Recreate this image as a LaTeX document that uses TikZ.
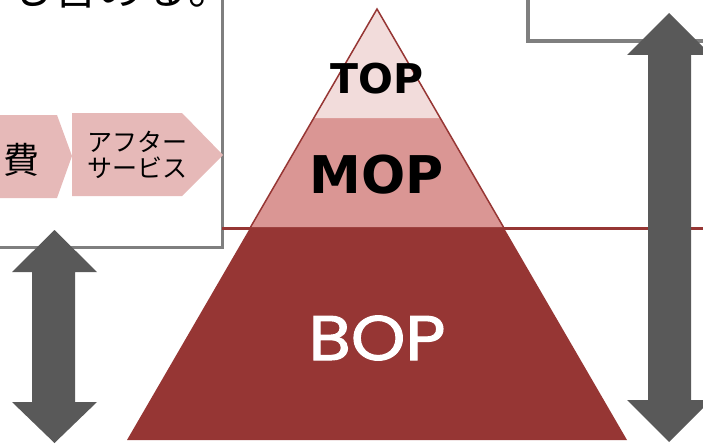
\documentclass[tikz,border=0pt]{standalone}
\usepackage{fontspec}
\newfontfamily\jpfont{Noto Sans CJK JP}
\newfontfamily\dvfont{DejaVu Sans}
\newfontfamily\popfont[FakeStretch=1.1, FakeBold=1.6]{Poppins}
\definecolor{boxgray}{HTML}{7F7F7F}
\definecolor{arrgray}{HTML}{595959}
\definecolor{bopred}{HTML}{963634}
\definecolor{mopred}{HTML}{DA9694}
\definecolor{toppink}{HTML}{F2DCDB}
\definecolor{chevpink}{HTML}{E6B9B8}
\tikzset{
  framebox/.style={draw=boxgray, line width=3.5pt},
  chev/.style={fill=chevpink, draw=none},
  bigarrow/.style={fill=arrgray, draw=none},
}
\begin{document}
\begin{tikzpicture}[x=1pt,y=-1pt]
\useasboundingbox (0,0) rectangle (703,444);
\clip (0,0) rectangle (703,444);
% frames
\draw[framebox] (-20,-20) rectangle (222.5,247.5);
\draw[framebox] (528,-20) rectangle (740,41);
% top text (cut off)
\node[anchor=base west, inner sep=0pt, font=\jpfont\fontsize{45}{45}\selectfont] (toptext) at (-37,5) {をも含める。};
% chevrons
\fill[chev] (-20,115) -- (57,115) -- (72,156) -- (57,198) -- (-20,198) -- cycle;
\fill[chev] (72,113) -- (182,113) -- (223,155) -- (182,196) -- (72,196) -- cycle;
\node[inner sep=0pt, font=\jpfont\fontsize{36}{36}\selectfont] (hi) at (21,160) {費};
\node[inner sep=0pt, align=center, font=\jpfont\fontsize{25}{26}\selectfont] (after) at (137,155) {アフター\\サービス};
% red line
\draw[bopred, line width=3pt] (222,228) -- (720,228);
% pyramid
\fill[bopred] (250.6,227) -- (503.4,227) -- (627,440) -- (127,440) -- cycle;
\fill[mopred] (314,118) -- (440,118) -- (503.4,227) -- (250.6,227) -- cycle;
\fill[toppink] (377,9) -- (440,118) -- (314,118) -- cycle;
\draw[bopred, line width=1.5pt, line join=miter] (250.6,227) -- (377,9) -- (503.4,227);
\node[anchor=base, inner sep=0pt, font=\dvfont\bfseries\fontsize{41}{41}\selectfont] (top) at (377,93) {TOP};
\node[anchor=base, inner sep=0pt, font=\dvfont\bfseries\fontsize{52}{52}\selectfont] (mop) at (377,193) {MOP};
\node[anchor=base, inner sep=0pt, text=white, font=\popfont\fontsize{63}{63}\selectfont] (bop) at (377,360) {BOP};
% double arrows
\fill[bigarrow] (54.5,230) -- (97,272) -- (75,272) -- (75,402) -- (97,402) -- (54.5,443) -- (12,402) -- (32,402) -- (32,272) -- (12,272) -- cycle;
\fill[bigarrow] (669,13) -- (711,55) -- (691,55) -- (691,400) -- (711,400) -- (669,442) -- (627,400) -- (648,400) -- (648,55) -- (627,55) -- cycle;
\end{tikzpicture}
\end{document}
